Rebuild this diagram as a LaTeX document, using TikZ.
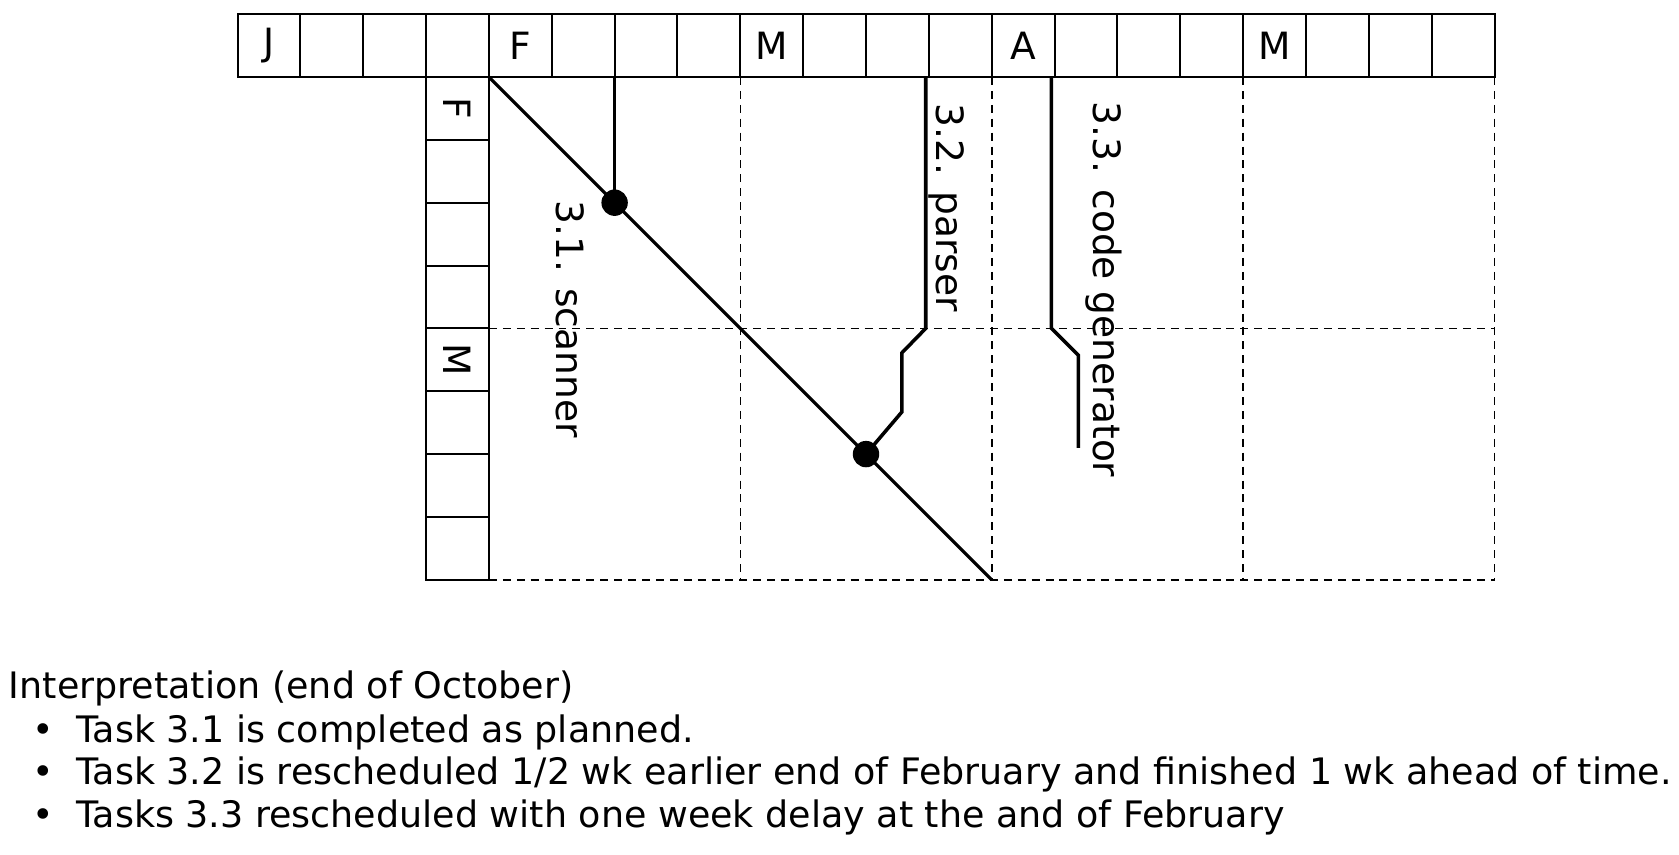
\documentclass[tikz,border=0pt]{standalone}
\usepackage{fontspec}
\setmainfont{DejaVu Sans}
\usetikzlibrary{positioning}
\tikzstyle{week} = [rectangle, draw=black, line width=0.9pt, minimum width=1cm, minimum height=1cm, inner sep=0pt, outer sep=0pt, font=\fontsize{17}{20}\selectfont]
\tikzstyle{guide} = [dash pattern=on 3.6pt off 2.7pt, line width=0.7pt]
\tikzstyle{plan} = [line width=1.4pt]
\tikzstyle{task} = [line width=1.6pt, line join=miter]
\tikzstyle{tasklabel} = [rotate=-90, anchor=west, inner sep=0pt, font=\fontsize{17}{20}\selectfont]
\tikzstyle{milestone} = [circle, fill=black, minimum size=0.42cm, inner sep=0pt]
\tikzstyle{note} = [anchor=base west, inner sep=0pt, font=\fontsize{16.5}{19}\selectfont]

\begin{document}
\begin{tikzpicture}[node distance=0cm]
\useasboundingbox (-3.779,1.225) rectangle (22.935,-12.363);
% time axis (weeks)
\node (jan1) [week] at (0.5,0.5) {J};
\node (jan2) [week, right=of jan1] {};
\node (jan3) [week, right=of jan2] {};
\node (jan4) [week, right=of jan3] {};
\node (feb1) [week, right=of jan4] {F};
\node (feb2) [week, right=of feb1] {};
\node (feb3) [week, right=of feb2] {};
\node (feb4) [week, right=of feb3] {};
\node (mar1) [week, right=of feb4] {M};
\node (mar2) [week, right=of mar1] {};
\node (mar3) [week, right=of mar2] {};
\node (mar4) [week, right=of mar3] {};
\node (apr1) [week, right=of mar4] {A};
\node (apr2) [week, right=of apr1] {};
\node (apr3) [week, right=of apr2] {};
\node (apr4) [week, right=of apr3] {};
\node (may1) [week, right=of apr4] {M};
\node (may2) [week, right=of may1] {};
\node (may3) [week, right=of may2] {};
\node (may4) [week, right=of may3] {};

% reporting axis
\node (sfeb1) [week, below=of jan4] {\rotatebox{-90}{F}};
\node (sfeb2) [week, below=of sfeb1] {};
\node (sfeb3) [week, below=of sfeb2] {};
\node (sfeb4) [week, below=of sfeb3] {};
\node (smar1) [week, below=of sfeb4] {\rotatebox{-90}{M}};
\node (smar2) [week, below=of smar1] {};
\node (smar3) [week, below=of smar2] {};
\node (smar4) [week, below=of smar3] {};

\draw[guide] (mar1.south west) -- (mar1.south west |- smar4.south);
\draw[guide] (apr1.south west) -- (apr1.south west |- smar4.south);
\draw[guide] (may1.south west) -- (may1.south west |- smar4.south);
\draw[guide] (may4.south east) -- (may4.south east |- smar4.south);
\draw[guide] (smar1.north east) -- (may4.south east |- smar1.north);
\draw[guide] (smar4.south east) -- (may4.south east |- smar4.south);

\coordinate (planend) at (apr1.south west |- smar4.south);
\node (done1) [milestone] at (feb3.south west |- sfeb2.south) {};
\node (done2) [milestone] at (mar3.south west |- smar2.south) {};
\draw[plan] (feb1.south west) -- (done1.center) -- (done2.center) -- (planend);

\draw[task] (feb3.south west) -- (done1.center);
\draw[task] ([xshift=-0.05cm]mar4.south west) -- ++(0,-4) -- ++(-0.38,-0.39) -- ++(0,-0.94) -- (done2.center);
\draw[task] ([xshift=-0.05cm]apr2.south west) -- ++(0,-4) -- ++(0.43,-0.43) -- ++(0,-1.47);

\node (scanner) [tasklabel] at (5.3,-1.96) {3.1. scanner};
\node (parser) [tasklabel] at (11.28,-0.42) {3.2. parser};
\node (codegen) [tasklabel] at (13.78,-0.39) {3.3. code generator};

% interpretation
\node (heading) [note] at (-3.643,-9.89) {Interpretation (end of October)};
\node (item1) [note] at (-2.57,-10.59) {\llap{•\hspace{0.36cm}}Task 3.1 is completed as planned.};
\node (item2) [note] at (-2.57,-11.26) {\llap{•\hspace{0.36cm}}Task 3.2 is rescheduled 1/2 wk earlier end of February and finished 1 wk ahead of time.};
\node (item3) [note] at (-2.57,-11.94) {\llap{•\hspace{0.36cm}}Tasks 3.3 rescheduled with one week delay at the and of February};
\end{tikzpicture}
\end{document}
